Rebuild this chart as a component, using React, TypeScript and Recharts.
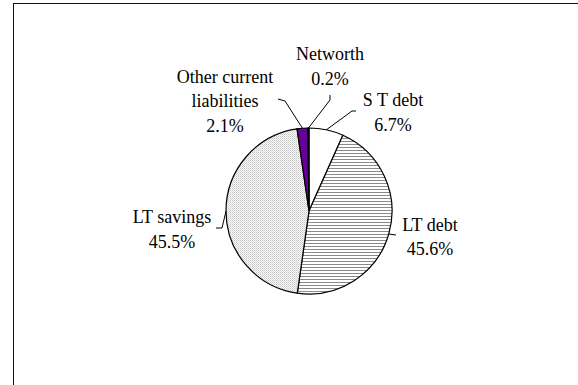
import { PieChart, Pie, Cell } from 'recharts';

// clockwise from 12 o'clock
const categories = ['S T debt', 'LT debt', 'LT savings', 'Other current liabilities', 'Networth'];
const shares = [6.7, 45.6, 45.5, 2.1, 0.2];
const labelLines = [['S T debt'], ['LT debt'], ['LT savings'], ['Other current', 'liabilities'], ['Networth']];

const data = categories.map((name, i) => ({ name, value: shares[i] }));

const fills = ['#ffffff', 'url(#hStripes)', 'url(#fineDots)', '#660099', '#000000'];

// label block centre + leader bend points, relative to pie centre
const labelLayout = [
  { text: [84, -98.5], leader: [[43, -100], [47, -100]] },
  { text: [121, 26], leader: [[87, 24]] },
  { text: [-137, 18.5], leader: [[-87, 17], [-93, 17]] },
  { text: [-84, -110], leader: [[-24, -110], [-31, -112]] },
  { text: [21, -144.5], leader: [[21, -111], [21, -116]] },
];

const RADIAN = Math.PI / 180;
const FONT = "'Liberation Serif', 'Times New Roman', serif";

const renderLabel = (props: any) => {
  const { cx, cy, midAngle, outerRadius, index } = props;
  const lay = labelLayout[index];
  const sx = cx + outerRadius * Math.cos(-midAngle * RADIAN);
  const sy = cy + outerRadius * Math.sin(-midAngle * RADIAN);
  const pts = [[sx, sy], ...lay.leader.map(([dx, dy]) => [cx + dx, cy + dy])];
  const lines = [...labelLines[index], `${shares[index].toFixed(1)}%`];
  const gap = 24.5;
  const top = cy + lay.text[1] - ((lines.length - 1) * gap) / 2;
  const tx = cx + lay.text[0];
  return (
    <g key={`lbl-${index}`}>
      <polyline points={pts.map((p) => p.join(',')).join(' ')} fill="none" stroke="#000" strokeWidth={1} />
      <text textAnchor="middle" style={{ fontFamily: FONT, fontSize: 18 }} fill="#000">
        {lines.map((l, i) => (
          <tspan key={i} x={tx} y={top + i * gap + 6} style={{ fontFamily: FONT }}>
            {l}
          </tspan>
        ))}
      </text>
    </g>
  );
};

export default function App() {
  return (
    <div
      style={{
        position: 'absolute',
        left: 0,
        top: 0,
        width: 578,
        height: 385,
        background: '#fff',
        overflow: 'hidden',
        fontFamily: FONT,
      }}
    >
      <div
        style={{
          position: 'absolute',
          left: 13,
          top: 3,
          width: 640,
          height: 440,
          borderLeft: '1.5px solid #111',
          borderTop: '1.5px solid #111',
        }}
      />
      <div style={{ position: 'absolute', left: 0, top: 0 }}>
        <PieChart width={578} height={385} margin={{ top: 0, right: 0, bottom: 0, left: 0 }} style={{ fontFamily: FONT }}>
          <defs>
            <pattern id="hStripes" width="4" height="3" patternUnits="userSpaceOnUse">
              <rect width="4" height="3" fill="#fff" />
              <rect y="0" width="4" height="1" fill="#8a8a8a" />
            </pattern>
            <pattern id="fineDots" width="2" height="2" patternUnits="userSpaceOnUse">
              <rect width="2" height="2" fill="#fafafa" />
              <rect x="0" y="0" width="1" height="1" fill="#c4c4c4" />
              <rect x="1" y="1" width="1" height="1" fill="#dcdcdc" />
            </pattern>
          </defs>
          <Pie
            data={data}
            dataKey="value"
            nameKey="name"
            cx={309}
            cy={211}
            outerRadius={83}
            startAngle={90}
            endAngle={-270}
            stroke="#000"
            strokeWidth={1.2}
            label={renderLabel}
            labelLine={false}
            isAnimationActive={false}
          >
            {data.map((d, i) => (
              <Cell key={d.name} fill={fills[i]} />
            ))}
          </Pie>
        </PieChart>
      </div>
    </div>
  );
}
